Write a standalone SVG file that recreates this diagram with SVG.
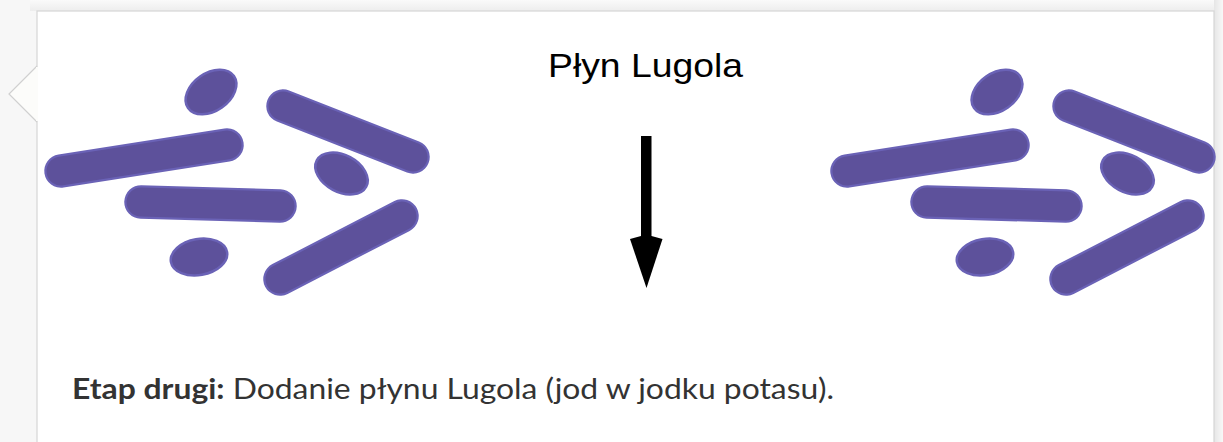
<svg xmlns="http://www.w3.org/2000/svg" width="1223" height="442" viewBox="0 0 1223 442">
  <defs>
    <style>
      .rod-edge { stroke: #6a62b6; stroke-linecap: round; fill: none; }
      .rod-core { stroke: #5d519b; stroke-linecap: round; fill: none; }
      .cocc { fill: #5d519b; stroke: #6a62b6; stroke-width: 2.5; }
      .title { font-family: "Liberation Sans", Arial, sans-serif; font-size: 34px; fill: #000; }
      .caption { font-family: Lato, "Noto Sans", sans-serif; font-size: 28px; fill: #333; }
      .caption .lead { font-weight: bold; }
    </style>
    <linearGradient id="shadeTop" x1="0" y1="0" x2="0" y2="1">
      <stop offset="0" stop-color="#fafafa"/>
      <stop offset="1" stop-color="#ededed"/>
    </linearGradient>
    <linearGradient id="shadeRight" x1="0" y1="0" x2="1" y2="0">
      <stop offset="0" stop-color="#e6e6e6"/>
      <stop offset="1" stop-color="#f8f8f8"/>
    </linearGradient>
    <!-- one cluster of bacteria: rods and cocci -->
    <g id="cluster">
      <g class="rod-edge" stroke-width="33.5">
        <line x1="61" y1="171" x2="227" y2="145"/>
        <line x1="141" y1="202" x2="280" y2="206"/>
        <line x1="283" y1="106" x2="413" y2="157"/>
        <line x1="280" y1="279" x2="402" y2="216"/>
      </g>
      <g class="rod-core" stroke-width="29">
        <line x1="61" y1="171" x2="227" y2="145"/>
        <line x1="141" y1="202" x2="280" y2="206"/>
        <line x1="283" y1="106" x2="413" y2="157"/>
        <line x1="280" y1="279" x2="402" y2="216"/>
      </g>
      <ellipse class="cocc" cx="211" cy="92" rx="28" ry="19" transform="rotate(-35 211 92)"/>
      <ellipse class="cocc" cx="341.5" cy="173.5" rx="28" ry="18.5" transform="rotate(28 341.5 173.5)"/>
      <ellipse class="cocc" cx="199" cy="257" rx="28.5" ry="18" transform="rotate(-10 199 257)"/>
    </g>
  </defs>

  <!-- page background and card -->
  <rect x="0" y="0" width="1223" height="442" fill="#f7f7f7"/>
  <rect x="30" y="0" width="1193" height="11" fill="url(#shadeTop)"/>
  <rect x="1214" y="0" width="9" height="442" fill="url(#shadeRight)"/>
  <rect x="37" y="11" width="1177" height="440" fill="#ffffff" stroke="#d6d6d6" stroke-width="1.2"/>
  <!-- pointer notch on the left side of the card -->
  <polyline points="37,66 9,94 37,122" fill="#fcfcfa" stroke="#d0d0d0" stroke-width="1.2"/>
  <rect x="36" y="67" width="2" height="54" fill="#fcfcfa"/>

  <g id="bacteria-before">
    <use href="#cluster"/>
  </g>
  <g id="bacteria-after">
    <use href="#cluster" transform="translate(786 0)"/>
  </g>

  <g id="reagent-label">
    <text class="title" x="645.5" y="77" text-anchor="middle" textLength="195" lengthAdjust="spacingAndGlyphs">Płyn Lugola</text>
  </g>

  <g id="connectors">
    <rect x="641" y="136" width="10.5" height="101" fill="#000"/>
    <polygon points="630,239 641,236 651.5,236 662.5,239 646.5,288" fill="#000"/>
  </g>

  <g id="caption">
    <text class="caption" x="72" y="399" textLength="762" lengthAdjust="spacingAndGlyphs"><tspan class="lead">Etap drugi:</tspan> Dodanie płynu Lugola (jod w jodku potasu).</text>
  </g>
</svg>
